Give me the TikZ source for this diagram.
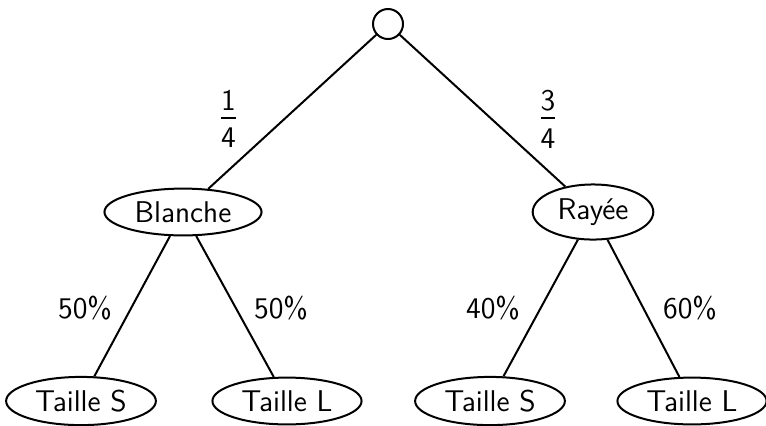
\documentclass[tikz,border=0pt]{standalone}
\usepackage{fontspec}
\usetikzlibrary{shapes.geometric}
% stacked fraction set in the text font
\newcommand\stackfrac[2]{$\vcenter{\hbox{#1}\kern0.22em\hrule height 0.07em\kern0.3em\hbox{#2}}$}
\begin{document}
\begin{tikzpicture}[x=0.5pt,y=-0.5pt,
  every node/.style={font=\sffamily\fontsize{15}{18}\selectfont},
  choice/.style={draw,ellipse,line width=1pt,inner xsep=3.6pt,inner ysep=3pt},
  rootnode/.style={draw,circle,line width=1pt,minimum size=15pt,inner sep=0pt},
  branch/.style={line width=1pt},
  prob/.style={inner sep=0pt}]
\useasboundingbox (0,0) rectangle (766,425);

% root and first level
\node[rootnode] (r) at (388,24) {};
\node[choice] (b) at (183,212) {Blanche};
\node[choice] (y) at (593,212) {Rayée};

% leaves
\node[choice] (bs) at (81,401) {Taille S};
\node[choice] (bl) at (287,401) {Taille L};
\node[choice] (ys) at (490,401) {Taille S};
\node[choice] (yl) at (692,401) {Taille L};

% branches
\draw[branch] (r) -- (b);
\draw[branch] (r) -- (y);
\draw[branch] (b) -- (bs);
\draw[branch] (b) -- (bl);
\draw[branch] (y) -- (ys);
\draw[branch] (y) -- (yl);

% probabilities
\node[prob] (p1) at (228.5,119) {\stackfrac{1}{4}};
\node[prob] (p2) at (548,119) {\stackfrac{3}{4}};
\node[prob] (p3) at (85,308) {50\%};
\node[prob] (p4) at (281,308) {50\%};
\node[prob] (p5) at (493,308) {40\%};
\node[prob] (p6) at (690,308) {60\%};
\end{tikzpicture}
\end{document}
